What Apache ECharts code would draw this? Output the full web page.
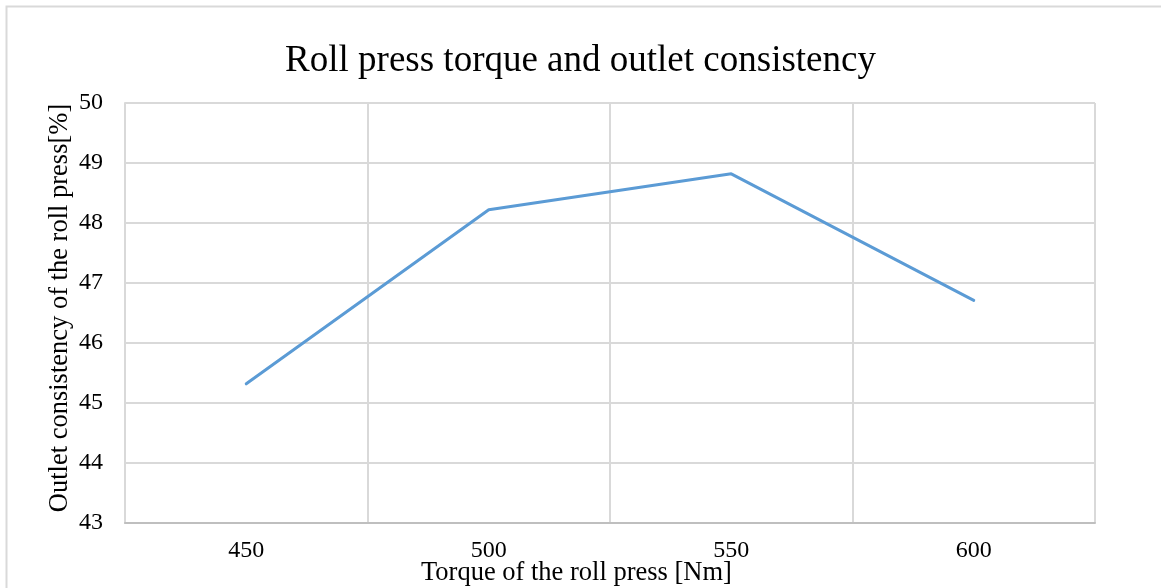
<!DOCTYPE html>
<html>
<head>
    <meta charset="utf-8">
    <script src="https://cdn.jsdelivr.net/npm/echarts@6/dist/echarts.min.js"></script>
</head>
<body style="margin: 0; background: #fff">
    <div id="container" style="height:588px;width:1161px"></div>
    <script type="text/javascript">
        // torque [Nm] on x, outlet consistency [%] on y
        var torque = ['450', '500', '550', '600'];
        var consistency = [45.32, 48.22, 48.82, 46.71];
        var yTicks = { min: 43, max: 50, step: 1 };

        var font = 'Liberation Serif, Times New Roman, serif';
        var gridColor = '#d9d9d9';

        var myChart = echarts.init(document.getElementById('container'));
        var option = {
            animation: false,
            backgroundColor: '#fff',
            title: {
                text: 'Roll press torque and outlet consistency',
                left: 'center',
                top: 38,
                textStyle: { fontFamily: font, fontSize: 37, fontWeight: 'normal', color: '#000' }
            },
            grid: { left: 125, right: 66, top: 103, bottom: 65 },
            graphic: [
                {
                    type: 'rect',
                    shape: { x: 6.5, y: 6.5, width: 1170, height: 600 },
                    style: { fill: 'none', stroke: gridColor, lineWidth: 2 },
                    silent: true
                },
                {
                    type: 'text',
                    left: 421,
                    top: 560,
                    style: {
                        text: 'Torque of the roll press [Nm]',
                        font: '26.5px ' + font,
                        fill: '#000'
                    }
                }
            ],
            xAxis: {
                type: 'category',
                data: torque,
                boundaryGap: true,
                axisLine: { lineStyle: { color: '#bfbfbf', width: 2 } },
                axisTick: { show: false },
                axisLabel: { fontFamily: font, fontSize: 24, color: '#000', margin: 16 },
                splitLine: { show: true, lineStyle: { color: gridColor, width: 2 } }
            },
            yAxis: {
                type: 'value',
                min: yTicks.min,
                max: yTicks.max,
                interval: yTicks.step,
                name: 'Outlet consistency of the roll press[%]',
                nameLocation: 'middle',
                nameGap: 51,
                nameMoveOverlap: false,
                nameTextStyle: { fontFamily: font, fontSize: 26.5, color: '#000', padding: [0, 0, 0, 10] },
                axisLine: { show: true, lineStyle: { color: gridColor, width: 2 } },
                axisTick: { show: false },
                axisLabel: { fontFamily: font, fontSize: 24, color: '#000', margin: 22 },
                splitLine: { lineStyle: { color: gridColor, width: 2 } }
            },
            series: [{
                type: 'line',
                data: consistency,
                symbol: 'none',
                lineStyle: { color: '#5b9bd5', width: 3, cap: 'round' },
                itemStyle: { color: '#5b9bd5' }
            }]
        };
        myChart.setOption(option);
    </script>
</body>
</html>
